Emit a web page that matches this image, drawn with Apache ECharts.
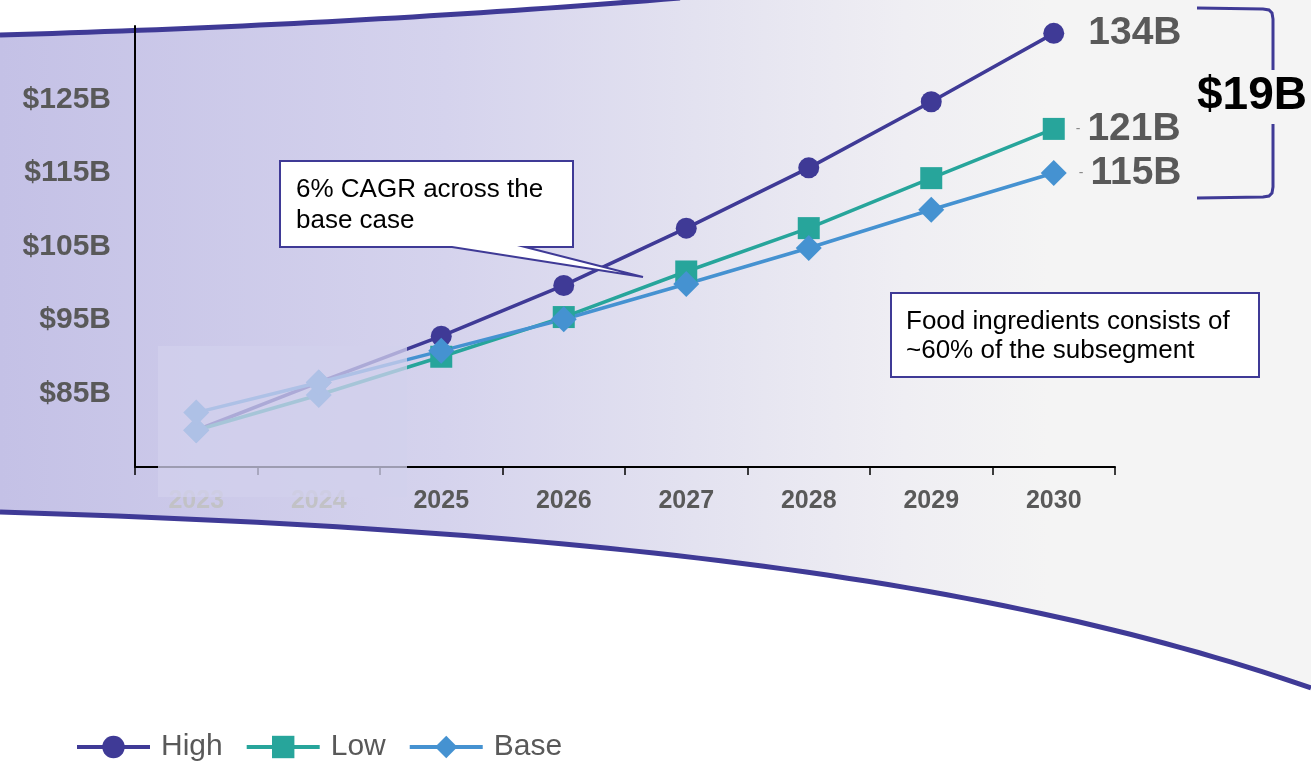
<!DOCTYPE html>
<html>
<head>
<meta charset="utf-8">
<title>Market size scenarios 2023–2030</title>
<script src="https://cdn.jsdelivr.net/npm/echarts@6/dist/echarts.min.js"></script>
<style>
  html, body { margin: 0; padding: 0; background: #ffffff; }
  #chart { width: 1311px; height: 766px; }
</style>
</head>
<body>
<div id="chart"></div>
<script>
// Market size by scenario, $B
const years = ['2023', '2024', '2025', '2026', '2027', '2028', '2029', '2030'];
const high  = [80.0, 86.5, 92.8, 99.7, 107.5, 115.7, 124.7, 134];
const low   = [80.0, 84.8, 90.0, 95.4, 101.6, 107.5, 114.3, 121];
const base  = [82.4, 86.5, 90.8, 95.1, 99.9, 104.8, 110.0, 115];
const seriesNames = ['High', 'Low', 'Base'];
const yTicks = [85, 95, 105, 115, 125];
const spreadLabel = '$19B';
const noteCagr = '6% CAGR across the\nbase case';
const noteShare = 'Food ingredients consists of\n~60% of the subsegment';
const historicYears = ['2023', '2024'];

const PURPLE = '#3f3a96';
const TEAL = '#27a59b';
const BLUE = '#4592d1';
const GREY = '#595959';
const FONT = 'Arial, "Liberation Sans", sans-serif';

const chart = echarts.init(document.getElementById('chart'));
const last = years.length - 1;

// historic points share the diamond marker
function toData(values) {
  return values.map((v, i) => historicYears.includes(years[i])
    ? { value: v, symbol: 'diamond', symbolSize: 26, itemStyle: { color: BLUE } }
    : v);
}

function endLabel(withDash, distance) {
  return {
    show: true,
    position: 'right',
    distance: distance,
    formatter: p => p.dataIndex === last
      ? (withDash ? '{d|-}{v|' + p.value + 'B}' : '{v|' + p.value + 'B}')
      : '',
    rich: {
      d: { fontSize: 14, color: '#8a8a8a', padding: [0, 7, 0, 0], fontFamily: FONT },
      v: { fontSize: 39, fontWeight: 'bold', color: GREY, fontFamily: FONT }
    }
  };
}

// sample points along the decorative band edges
function quadPts(p0, c, p1, n) {
  const pts = [];
  for (let i = 0; i <= n; i++) {
    const t = i / n, u = 1 - t;
    pts.push([u * u * p0[0] + 2 * u * t * c[0] + t * t * p1[0],
              u * u * p0[1] + 2 * u * t * c[1] + t * t * p1[1]]);
  }
  return pts;
}
function cubicPts(p0, c1, c2, p1, n) {
  const pts = [];
  for (let i = 0; i <= n; i++) {
    const t = i / n, u = 1 - t;
    const a = u * u * u, b = 3 * u * u * t, c = 3 * u * t * t, d = t * t * t;
    pts.push([a * p0[0] + b * c1[0] + c * c2[0] + d * p1[0],
              a * p0[1] + b * c1[1] + c * c2[1] + d * p1[1]]);
  }
  return pts;
}
const topEdge = quadPts([0, 35], [350, 25], [680, -2], 40);
const bottomEdge = cubicPts([0, 512], [600, 530], [1000, 580], [1311, 688], 60);
const bandPts = topEdge.concat([[1311, -2]], bottomEdge.slice().reverse());

const bandFill = {
  type: 'linear', x: 0, y: 0, x2: 1, y2: 0,
  colorStops: [
    { offset: 0, color: '#c4c1e6' },
    { offset: 0.34, color: '#d5d3ed' },
    { offset: 0.53, color: '#e3e2f0' },
    { offset: 0.69, color: '#efeef3' },
    { offset: 0.8, color: '#f4f4f4' },
    { offset: 1, color: '#f4f4f4' }
  ]
};

const option = {
  animation: false,
  backgroundColor: '#ffffff',
  grid: { left: 135, right: 196, top: 26, bottom: 299, containLabel: false },
  xAxis: {
    type: 'category',
    data: years,
    boundaryGap: true,
    axisLine: { lineStyle: { color: '#000', width: 2 } },
    axisTick: { show: true, length: 8, lineStyle: { color: '#000', width: 1.5 } },
    axisLabel: {
      margin: 22,
      fontSize: 25,
      fontWeight: 'bold',
      fontFamily: FONT,
      color: (val) => historicYears.includes(val) ? '#c2c2c6' : GREY
    }
  },
  yAxis: {
    type: 'value',
    min: 75,
    max: 135,
    interval: 10,
    axisLine: { show: true, lineStyle: { color: '#000', width: 2 } },
    axisTick: { show: false },
    splitLine: { show: false },
    axisLabel: {
      margin: 24,
      fontSize: 30,
      fontWeight: 'bold',
      fontFamily: FONT,
      color: GREY,
      formatter: v => yTicks.includes(v) ? '$' + v + 'B' : ''
    }
  },
  legend: {
    data: seriesNames,
    left: 75,
    top: 732,
    padding: 0,
    itemWidth: 73,
    itemHeight: 28,
    itemGap: 22,
    lineStyle: { width: 4 },
    textStyle: { fontSize: 30, color: GREY, fontFamily: FONT, padding: [10, 0, 0, 6] }
  },
  series: [
    {
      name: seriesNames[0], type: 'line', data: toData(high),
      symbol: 'circle', symbolSize: 21,
      lineStyle: { color: PURPLE, width: 3.5 },
      itemStyle: { color: PURPLE },
      label: endLabel(false, 24)
    },
    {
      name: seriesNames[1], type: 'line', data: toData(low),
      symbol: 'rect', symbolSize: 22,
      lineStyle: { color: TEAL, width: 3.5 },
      itemStyle: { color: TEAL },
      label: endLabel(true, 11)
    },
    {
      name: seriesNames[2], type: 'line', data: base,
      symbol: 'diamond', symbolSize: 26,
      lineStyle: { color: BLUE, width: 3.5 },
      itemStyle: { color: BLUE },
      label: endLabel(true, 12)
    }
  ],
  graphic: [
    // backdrop band with curved edges
    {
      type: 'polygon', z: -10, silent: true,
      shape: { points: bandPts },
      style: { fill: bandFill }
    },
    {
      type: 'polyline', z: -9, silent: true,
      shape: { points: topEdge },
      style: { fill: null, stroke: PURPLE, lineWidth: 5 }
    },
    {
      type: 'polyline', z: -9, silent: true,
      shape: { points: bottomEdge },
      style: { fill: null, stroke: PURPLE, lineWidth: 5 }
    },
    // haze over the historic years
    {
      type: 'rect', z: 60, silent: true,
      shape: { x: 158, y: 346, width: 249, height: 151 },
      style: { fill: 'rgba(210,208,236,0.75)' }
    },
    // CAGR callout
    {
      type: 'polygon', z: 50, silent: true,
      shape: { points: [[280, 161], [573, 161], [573, 247], [525, 247], [643, 277], [452, 247], [280, 247]] },
      style: { fill: '#ffffff', stroke: PURPLE, lineWidth: 2 }
    },
    {
      type: 'text', z: 51, silent: true, x: 296, y: 174,
      style: { text: noteCagr, font: '26px ' + FONT, fill: '#000', lineHeight: 31, verticalAlign: 'top' }
    },
    // share callout
    {
      type: 'rect', z: 50, silent: true,
      shape: { x: 891, y: 293, width: 368, height: 84 },
      style: { fill: '#ffffff', stroke: PURPLE, lineWidth: 2 }
    },
    {
      type: 'text', z: 51, silent: true, x: 906, y: 307,
      style: { text: noteShare, font: '26px ' + FONT, fill: '#000', lineHeight: 29, verticalAlign: 'top' }
    },
    // spread bracket
    {
      type: 'polyline', z: 50, silent: true,
      shape: { points: [[1197, 8], [1263, 9], [1269, 10], [1272, 13], [1273, 19], [1273, 70]] },
      style: { fill: null, stroke: PURPLE, lineWidth: 3 }
    },
    {
      type: 'polyline', z: 50, silent: true,
      shape: { points: [[1273, 124], [1273, 187], [1272, 193], [1269, 196], [1263, 197], [1197, 198]] },
      style: { fill: null, stroke: PURPLE, lineWidth: 3 }
    },
    {
      type: 'text', z: 51, silent: true, x: 1252, y: 96,
      style: { text: spreadLabel, font: 'bold 46px ' + FONT, fill: '#000', align: 'center', verticalAlign: 'middle' }
    }
  ]
};

chart.setOption(option);
</script>
</body>
</html>
